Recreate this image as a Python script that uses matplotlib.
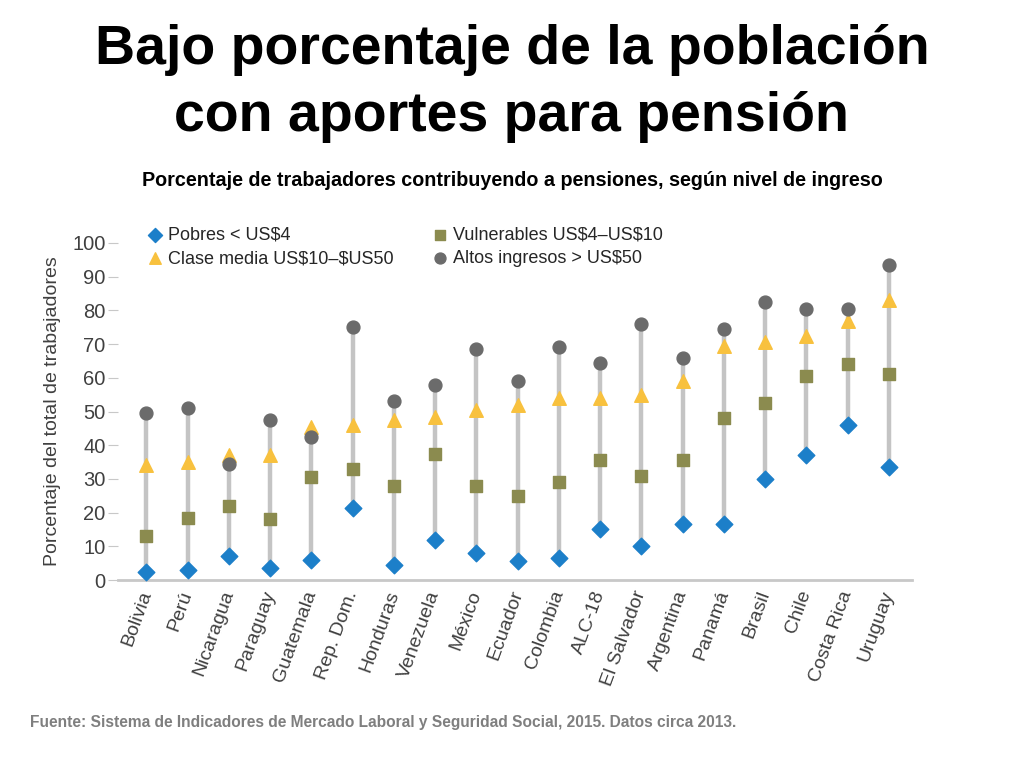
import matplotlib
matplotlib.use("Agg")
import matplotlib.pyplot as plt
import numpy as np

paises = ["Bolivia", "Perú", "Nicaragua", "Paraguay", "Guatemala", "Rep. Dom.",
          "Honduras", "Venezuela", "México", "Ecuador", "Colombia", "ALC-18",
          "El Salvador", "Argentina", "Panamá", "Brasil", "Chile", "Costa Rica",
          "Uruguay"]
pobres = [2.5, 3, 7, 3.5, 6, 21.5, 4.5, 12, 8, 5.5, 6.5, 15, 10, 16.5, 16.5, 30, 37, 46, 33.5]
vulnerables = [13, 18.5, 22, 18, 30.5, 33, 28, 37.5, 28, 25, 29, 35.5, 31, 35.5, 48, 52.5, 60.5, 64, 61]
clase_media = [34, 35, 37, 37, 45.5, 46, 47.5, 48.5, 50.5, 52, 54, 54, 55, 59, 69.5, 70.5, 72.5, 77, 83]
altos = [49.5, 51, 34.5, 47.5, 42.5, 75, 53, 58, 68.5, 59, 69, 64.5, 76, 66, 74.5, 82.5, 80.5, 80.5, 93.5]

TXT = "#404040"
NARROW = ["Liberation Sans Narrow", "Liberation Sans", "DejaVu Sans"]

plt.rcParams["font.family"] = ["Liberation Sans", "DejaVu Sans"]

fig = plt.figure(figsize=(10.24, 7.68), dpi=100)
ax = fig.add_axes([118 / 1024, 1 - 580 / 768, (912 - 118) / 1024, (580 - 243) / 768])

x = np.arange(len(paises))
todos = np.array([pobres, vulnerables, clase_media, altos])
# barra gris entre el valor minimo y maximo de cada pais
ax.vlines(x, todos.min(axis=0), todos.max(axis=0), color="#c4c4c4", lw=3.2, zorder=1)

ms = 95
h1 = ax.scatter(x, pobres, marker="D", s=ms * 0.75, color="#1c7fc9", zorder=3, clip_on=False,
                label=r"Pobres < US\$4")
h2 = ax.scatter(x, vulnerables, marker="s", s=ms * 0.9, color="#8b8b4f", zorder=3, clip_on=False,
                label=r"Vulnerables US\$4–US\$10")
h3 = ax.scatter(x, clase_media, marker="^", s=ms, color="#f8c13e", zorder=3, clip_on=False,
                label=r"Clase media US\$10–\$US50")
h4 = ax.scatter(x, altos, marker="o", s=ms * 0.9, color="#6b6b6b", zorder=3, clip_on=False,
                label=r"Altos ingresos > US\$50")

ax.set_xlim(-0.69, 18.56)
ax.set_ylim(0, 100)
ax.set_yticks(range(0, 101, 10))
ax.set_xticks(x)
ax.set_xticklabels(paises, rotation=70, ha="right", va="center", rotation_mode="anchor",
                   fontsize=14, color=TXT)
ax.tick_params(axis="x", length=0, pad=8)
ax.tick_params(axis="y", length=7, color="#c8c8c8", labelsize=14.5, labelcolor=TXT, pad=2)
for s in ["top", "right", "left"]:
    ax.spines[s].set_visible(False)
ax.spines["bottom"].set_color("#c8c8c8")
ax.spines["bottom"].set_linewidth(2)

ax.set_ylabel("Porcentaje del total de trabajadores", fontsize=14, color=TXT, labelpad=8)

fig.legend(handles=[h1, h3, h2, h4], ncol=2, frameon=False, fontsize=13,
           loc="center left", bbox_to_anchor=(128 / 1024, 1 - 247 / 768),
           columnspacing=2.0, handletextpad=0.1, labelspacing=0.35,
           handlelength=1.2, markerscale=0.85, labelcolor="#262626")

fig.text(0.5, 1 - 50 / 768, "Bajo porcentaje de la población", ha="center", va="center",
         fontsize=40, fontweight="bold", family=NARROW)
fig.text(0.5, 1 - 117 / 768, "con aportes para pensión", ha="center", va="center",
         fontsize=40, fontweight="bold", family=NARROW)
fig.text(0.5, 1 - 180 / 768,
         "Porcentaje de trabajadores contribuyendo a pensiones, según nivel de ingreso",
         ha="center", va="center", fontsize=14.2, fontweight="bold", family=NARROW)
fig.text(30 / 1024, 1 - 722 / 768,
         "Fuente: Sistema de Indicadores de Mercado Laboral y Seguridad Social, 2015. Datos circa 2013.",
         ha="left", va="center", fontsize=11.2, fontweight="bold", color="#7f7f7f", family=NARROW)

fig.savefig("out.png", dpi=100)
